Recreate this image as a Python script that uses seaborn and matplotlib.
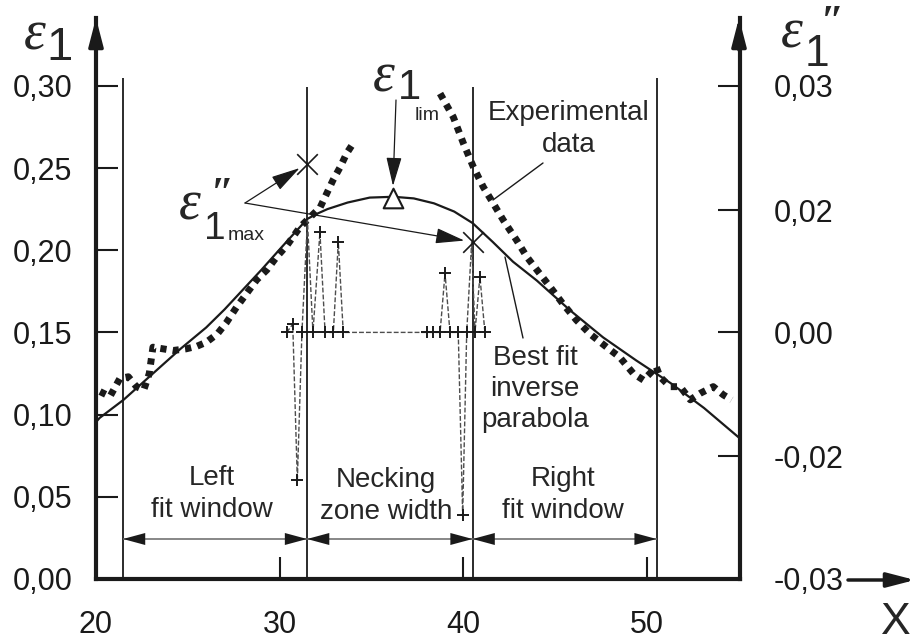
import numpy as np
import pandas as pd
import seaborn as sns
import matplotlib
matplotlib.use('Agg')
import matplotlib.pyplot as plt

# experimental major strain, left branch and right branch of the neck
exp_left_x = [20.22, 20.76, 21.3, 21.76, 22.2, 22.6, 22.9, 23.0, 23.1, 23.65, 24.2, 24.9, 25.5, 26.0,
              26.6, 27.1, 27.66, 28.2, 28.75, 29.3, 29.84, 30.4, 31.1, 31.65, 32.2, 32.56, 32.9, 33.3,
              33.65, 34.0]
exp_left_y = [0.114, 0.111, 0.122, 0.123, 0.117, 0.115, 0.125, 0.133, 0.141, 0.140, 0.139, 0.140, 0.1416,
              0.144, 0.149, 0.156, 0.1655, 0.1737, 0.182, 0.188, 0.196, 0.203, 0.214, 0.220, 0.226, 0.2345,
              0.2426, 0.2507, 0.259, 0.265]
exp_right_x = [38.73, 39.45, 40.0, 40.54, 41.08, 41.63, 42.17, 42.9, 43.45, 44.0, 44.7, 45.4, 46.15, 46.9,
               47.8, 48.5, 49.25, 49.8, 50.15, 50.5, 50.7, 51.25, 51.8, 52.35, 52.9, 53.6, 54.15, 54.6]
exp_right_y = [0.2953, 0.281, 0.265, 0.2507, 0.2385, 0.2284, 0.2183, 0.206, 0.196, 0.188, 0.178, 0.1676,
               0.1575, 0.149, 0.141, 0.135, 0.125, 0.121, 0.125, 0.129, 0.123, 0.117, 0.117, 0.109, 0.113,
               0.117, 0.112, 0.109]

# best fit inverse parabola
fit_x = [19.8, 20.2, 21.5, 22.9, 24.6, 26.0, 27.0, 28.0, 29.0, 30.2, 31.5, 32.0, 32.6, 33.7, 34.9, 36.2,
         37.3, 38.4, 39.5, 40.5, 41.6, 42.7, 44.0, 45.8, 47.6, 49.4, 51.3, 53.1, 55.0]
fit_y = [0.093, 0.098, 0.109, 0.123, 0.140, 0.153, 0.164, 0.176, 0.188, 0.203, 0.219, 0.222, 0.225, 0.229,
         0.232, 0.2325, 0.2315, 0.2285, 0.2235, 0.2165, 0.205, 0.193, 0.1815, 0.1635, 0.147, 0.133, 0.119,
         0.104, 0.086]

# second derivative, drawn on the e1 scale (baseline 0.15 = 0,00)
d2_x = [30.38, 30.71, 30.96, 31.21, 31.51, 31.81, 32.19, 32.47, 32.92, 33.19, 33.46,
        38.00, 38.36, 38.73, 39.00, 39.27, 39.72, 39.96, 40.18, 40.45, 40.63, 40.90, 41.17]
d2_y = [0.150, 0.155, 0.060, 0.150, 0.218, 0.150, 0.211, 0.150, 0.150, 0.205, 0.150,
        0.150, 0.150, 0.150, 0.186, 0.150, 0.150, 0.039, 0.150, 0.205, 0.150, 0.184, 0.150]
d2_hidden = [4, 19]

d2_max_x = [31.47, 40.5]
d2_max_y = [0.2527, 0.205]
lim_x, lim_y = 36.17, 0.232

window_x = [21.47, 31.49, 40.5, 50.52]
window_top = [0.305, 0.299, 0.299, 0.305]

xticks = [20, 30, 40, 50]
yticks = [0.0, 0.05, 0.10, 0.15, 0.20, 0.25, 0.30]
yticklabels = ['0,00', '0,05', '0,10', '0,15', '0,20', '0,25', '0,30']
y2ticks = [0.30, 0.2244, 0.15, 0.0748, 0.0]
y2ticklabels = ['0,03', '0,02', '0,00', '-0,02', '-0,03']

W, H = 915, 642
X0, PX_X = 96, 18.37
Y0, PX_Y = 579, 1644.0


def data_at(xp, yp):
    return 20 + (xp - X0) / PX_X, (Y0 - yp) / PX_Y


def fig_at(xp, yp):
    return xp / W, 1 - yp / H


sns.set_theme(style='white')
plt.rcParams['font.family'] = ['Liberation Sans', 'DejaVu Sans']
SERIF = ['Liberation Serif', 'DejaVu Serif']

fig = plt.figure(figsize=(9.15, 6.42), dpi=100)
ax = fig.add_axes([X0 / W, 1 - Y0 / H, (740 - X0) / W, (Y0 - 18) / H])
xmax = 20 + (740 - X0) / PX_X
ymax = (Y0 - 18) / PX_Y

ax.vlines(window_x, 0, window_top, color='k', lw=1.3)

dots = dict(color='0.1', lw=5, linestyle=(0, (0.9, 0.9)), dash_capstyle='butt', sort=False, estimator=None, ax=ax)
sns.lineplot(x=exp_left_x, y=exp_left_y, **dots)
sns.lineplot(x=exp_right_x, y=exp_right_y, **dots)
sns.lineplot(x=fit_x, y=fit_y, color='k', lw=1.6, sort=False, estimator=None, ax=ax)

d2 = pd.DataFrame({'x': d2_x, 'y': d2_y})
sns.lineplot(data=d2, x='x', y='y', color='0.3', lw=1.0, linestyle=(0, (3.5, 1.5)), sort=False,
             estimator=None, ax=ax)
marked = d2.drop(index=d2_hidden)
sns.scatterplot(data=marked, x='x', y='y', marker='+', s=70, color='k', linewidth=1.4, ax=ax, zorder=4)
sns.scatterplot(x=d2_max_x, y=d2_max_y, marker='x', s=220, color='k', linewidth=1.2, ax=ax, zorder=4)
sns.scatterplot(x=[lim_x], y=[lim_y], marker='^', s=200, facecolor='white', edgecolor='k', linewidth=1.5,
                ax=ax, zorder=5)

# window arrows
arr_y = data_at(0, 539)[1]
for a, b in zip(window_x[:-1], window_x[1:]):
    ax.hlines(arr_y, a, b, color='0.45', lw=1.2)
    ax.annotate('', xy=(b, arr_y), xytext=(a, arr_y),
                arrowprops=dict(arrowstyle='<|-|>,head_length=1.0,head_width=0.27', mutation_scale=16,
                                lw=0, color='k', shrinkA=0, shrinkB=0))

ax.set_xlim(20, xmax)
ax.set_ylim(0, ymax)
ax.set_xlabel('')
ax.set_ylabel('')
ax.set_xticks(xticks, labels=[str(t) for t in xticks])
ax.set_yticks(yticks, labels=yticklabels)
ax.tick_params(axis='both', direction='in', length=16, width=1.5, labelsize=22, color='k', labelcolor='k')
ax.tick_params(axis='y', pad=17, left=True)
ax.tick_params(axis='x', pad=22, bottom=True)
for s in ['top', 'right']:
    ax.spines[s].set_visible(False)
for s in ['left', 'bottom']:
    ax.spines[s].set_linewidth(3)
    ax.spines[s].set_color('k')

ax2 = ax.twinx()
ax2.set_ylim(0, ymax)
ax2.set_yticks(y2ticks, labels=y2ticklabels)
ax2.tick_params(axis='y', direction='in', length=16, width=1.5, labelsize=22, pad=24, right=True,
                color='k', labelcolor='k')
for s in ['top', 'left', 'bottom']:
    ax2.spines[s].set_visible(False)
ax2.spines['right'].set_linewidth(3)
ax2.spines['right'].set_color('k')
ax2.grid(False)
ax.grid(False)

# axis arrows
head = dict(arrowstyle='-|>,head_length=0.85,head_width=0.22', mutation_scale=20, color='k', lw=2.5,
            shrinkA=0, shrinkB=0)
for xa in [96, 739]:
    ax.annotate('', xy=fig_at(xa, 18), xytext=fig_at(xa, 50), xycoords='figure fraction',
                textcoords='figure fraction', arrowprops=head, annotation_clip=False)
ax.annotate('', xy=fig_at(915, 580), xytext=fig_at(848, 580), xycoords='figure fraction',
            textcoords='figure fraction', arrowprops=head, annotation_clip=False)

eps = dict(family=SERIF, style='italic', ha='center', va='center')
prime = dict(family=SERIF, style='italic', weight='bold', ha='center', va='center')
num = dict(ha='center', va='center')

# axis titles
fig.text(*fig_at(35, 36), 'ε', fontsize=40, **eps)
fig.text(*fig_at(60, 48), '1', fontsize=34, **num)
fig.text(*fig_at(792, 34), 'ε', fontsize=40, **eps)
fig.text(*fig_at(832, 24), '″', fontsize=30, **prime)
fig.text(*fig_at(817, 54), '1', fontsize=32, **num)
fig.text(*fig_at(896, 622), 'X', fontsize=32, **num)

# e1'' max label and arrows
fig.text(*fig_at(190, 206), 'ε', fontsize=40, **eps)
fig.text(*fig_at(222, 196), '″', fontsize=30, **prime)
fig.text(*fig_at(215, 229), '1', fontsize=28, **num)
fig.text(*fig_at(246, 236), 'max', fontsize=14, **num)
thin = dict(arrowstyle='-|>,head_length=0.75,head_width=0.2', mutation_scale=24, color='k', lw=0.9,
            shrinkA=0, shrinkB=6)
ax.annotate('', xy=(d2_max_x[0], d2_max_y[0]), xytext=data_at(245, 203), arrowprops=thin)
ax.annotate('', xy=(d2_max_x[1], d2_max_y[1]), xytext=data_at(245, 203), arrowprops=thin)

# e1 lim label
fig.text(*fig_at(384, 78), 'ε', fontsize=40, **eps)
fig.text(*fig_at(409, 88), '1', fontsize=30, **num)
fig.text(*fig_at(427, 116), 'lim', fontsize=14, **num)
ax.annotate('', xy=data_at(393, 186), xytext=data_at(396, 100),
            arrowprops=dict(thin, shrinkB=0))

# leader labels
txt = dict(fontsize=20, ha='center', va='center', linespacing=1.27)
fig.text(*fig_at(569, 129), 'Experimental\ndata', **txt)
ax.annotate('', xy=data_at(493, 200), xytext=data_at(543, 163),
            arrowprops=dict(arrowstyle='-', lw=1.0, color='k', shrinkA=0, shrinkB=0))
fig.text(*fig_at(535, 389), 'Best fit\ninverse\nparabola', **txt)
ax.annotate('', xy=data_at(505, 257), xytext=data_at(523, 338),
            arrowprops=dict(arrowstyle='-', lw=1.0, color='k', shrinkA=0, shrinkB=0))

fig.text(*fig_at(212, 494), 'Left\nfit window', **txt)
fig.text(*fig_at(386, 496), 'Necking\nzone width', **txt)
fig.text(*fig_at(563, 495), 'Right\nfit window', **txt)

fig.savefig('out.png', dpi=100, facecolor='white')
